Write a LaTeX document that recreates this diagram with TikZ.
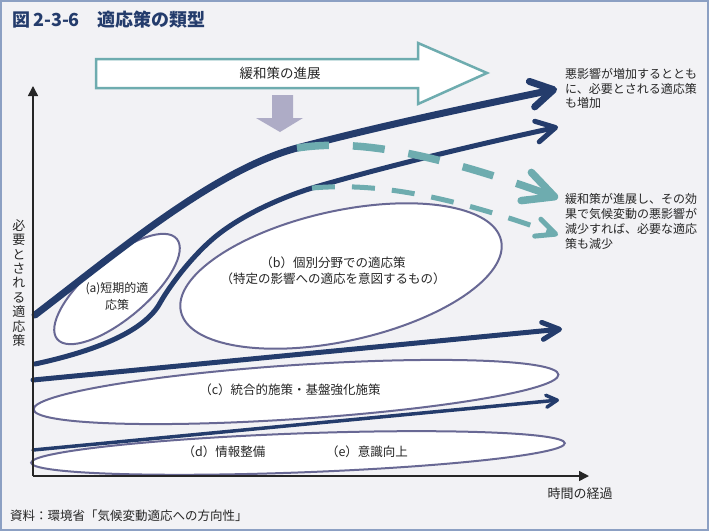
\documentclass[tikz,border=0pt]{standalone}
\usepackage{fontspec}
\setmainfont{Noto Sans CJK JP}
\usepackage{xcolor}
\usepackage{tikz}
\usetikzlibrary{arrows.meta}
\definecolor{navy}{RGB}{36,60,108}
\definecolor{sea}{RGB}{110,172,175}
\definecolor{ring}{RGB}{104,104,148}
\definecolor{paper}{RGB}{242,242,245}
\definecolor{edge}{RGB}{140,160,195}
\definecolor{haze}{RGB}{174,172,198}

\begin{document}
\begin{tikzpicture}[x=1pt,y=-1pt,
  ell/.style={draw=ring,fill=white,line width=2pt},
  need/.style={navy,line cap=round,line join=round},
  less/.style={sea,line join=round},
  lab/.style={font=\fontsize{12.5}{16}\selectfont,align=center,inner sep=0pt,text=black!85},
  note/.style={font=\fontsize{12}{14.6}\selectfont,align=left,anchor=west,inner sep=0pt,text=black!85}]
\useasboundingbox (0,0) rectangle (709,531);
\fill[paper] (0,0) rectangle (709,531);
\draw[edge,line width=2pt] (1,1) rectangle (708,530);
\node[anchor=west,inner sep=0pt,text=navy,font=\bfseries\fontsize{18}{20}\selectfont] (title) at (12,20) {図\hspace{3pt}2-3-6\hspace{18pt}適応策の類型};
\draw[sea,fill=white,line width=2.5pt,line join=miter] (96,59) -- (418,59) -- (418,43) -- (487,73) -- (418,104) -- (418,88) -- (96,88) -- cycle;
\node[lab,font=\fontsize{13.5}{16}\selectfont] (mitig) at (280,73) {緩和策の進展};
\fill[haze] (272,95) -- (293,95) -- (293,118) -- (303,118) -- (280,132) -- (256,118) -- (272,118) -- cycle;
\coordinate (Ea) at (117,289);
\coordinate (Eb) at (341,276);
\coordinate (Ec) at (296,392);
\coordinate (Ed) at (298,453);
\draw[ell,rotate around={40:(Ea)}] (Ea) ellipse [x radius=78,y radius=30];
\draw[ell,rotate around={12.5:(Eb)}] (Eb) ellipse [x radius=164,y radius=65];
\draw[ell,rotate around={3.8:(Ec)}] (Ec) ellipse [x radius=263,y radius=27];
\draw[ell,rotate around={2.1:(Ed)}] (Ed) ellipse [x radius=267,y radius=19.5];
\node[lab,font=\fontsize{12}{17}\selectfont] (ta) at (117,296.5) {(a)短期的適\\応策};
\node[lab] (tb) at (333,271) {（b）個別分野での適応策\\（特定の影響への適応を意図するもの）};
\node[lab] (tc) at (290,390) {（c）統合的施策・基盤強化施策};
\node[lab] (td) at (224,452) {（d）情報整備};
\node[lab] (te) at (367,452) {（e）意識向上};
\coordinate (A0) at (35,315);
\coordinate (A1) at (297,148);
\coordinate (A2) at (557,89);
\coordinate (B0) at (35,364);
\coordinate (B1) at (312,188);
\coordinate (B2) at (558,127);
\coordinate (C0) at (33,380);
\coordinate (C1) at (562,329);
\coordinate (D0) at (33,450);
\coordinate (D1) at (559,400);
\coordinate (T1) at (558,198);
\coordinate (T2) at (558,235);
\draw[need,line width=7pt,-{Straight Barb[round,length=22pt,width=26pt]}] (A0) .. controls (120,250) and (215,170) .. (A1) .. controls (380,126) and (470,107) .. (A2);
\draw[need,line width=5pt,-{Straight Barb[round,length=19pt,width=21pt]}] (B0) .. controls (100,350) and (145,330) .. (160,303) .. controls (170,285) and (195,252) .. (220,233) .. controls (245,214) and (280,198) .. (B1) .. controls (380,168) and (470,146) .. (B2);
\draw[need,line width=5pt,-{Straight Barb[round,length=17pt,width=17pt]}] (C0) -- (C1);
\draw[need,line width=3.5pt,-{Straight Barb[round,length=11pt,width=12pt]}] (D0) -- (D1);
\draw[less,line width=7.5pt,dash pattern=on 32pt off 24pt,-{Straight Barb[round,length=30pt,width=30pt]}] (A1) .. controls (350,140) and (420,148) .. (T1);
\draw[less,line width=5pt,dash pattern=on 23pt off 17pt,-{Straight Barb[round,length=19pt,width=18pt]}] (B1) .. controls (370,183) and (440,192) .. (T2);
\coordinate (O) at (33,476);
\coordinate (Ytop) at (33,86);
\coordinate (Xend) at (589,476);
\draw[black!85,line width=1.5pt,-{Triangle[length=10pt,width=10pt]}] (O) -- (Ytop);
\draw[black!85,line width=1.5pt,-{Triangle[length=10pt,width=10pt]}] (O) -- (Xend);
\node[lab,font=\fontsize{13}{14.4}\selectfont] (ylab) at (19,283) {必\\要\\と\\さ\\れ\\る\\適\\応\\策};
\node[lab,font=\fontsize{13}{15}\selectfont] (xlab) at (580,494) {時間の経過};
\node[note] (rise) at (565,88.5) {悪影響が増加するととも\\に、必要とされる適応策\\も増加};
\node[note,font=\fontsize{12}{15}\selectfont] (fall) at (565,221.5) {緩和策が進展し、その効\\果で気候変動の悪影響が\\減少すれば、必要な適応\\策も減少};
\node[note,font=\fontsize{12.5}{15}\selectfont] (src) at (10,516) {資料：環境省「気候変動適応への方向性」};
\end{tikzpicture}
\end{document}
